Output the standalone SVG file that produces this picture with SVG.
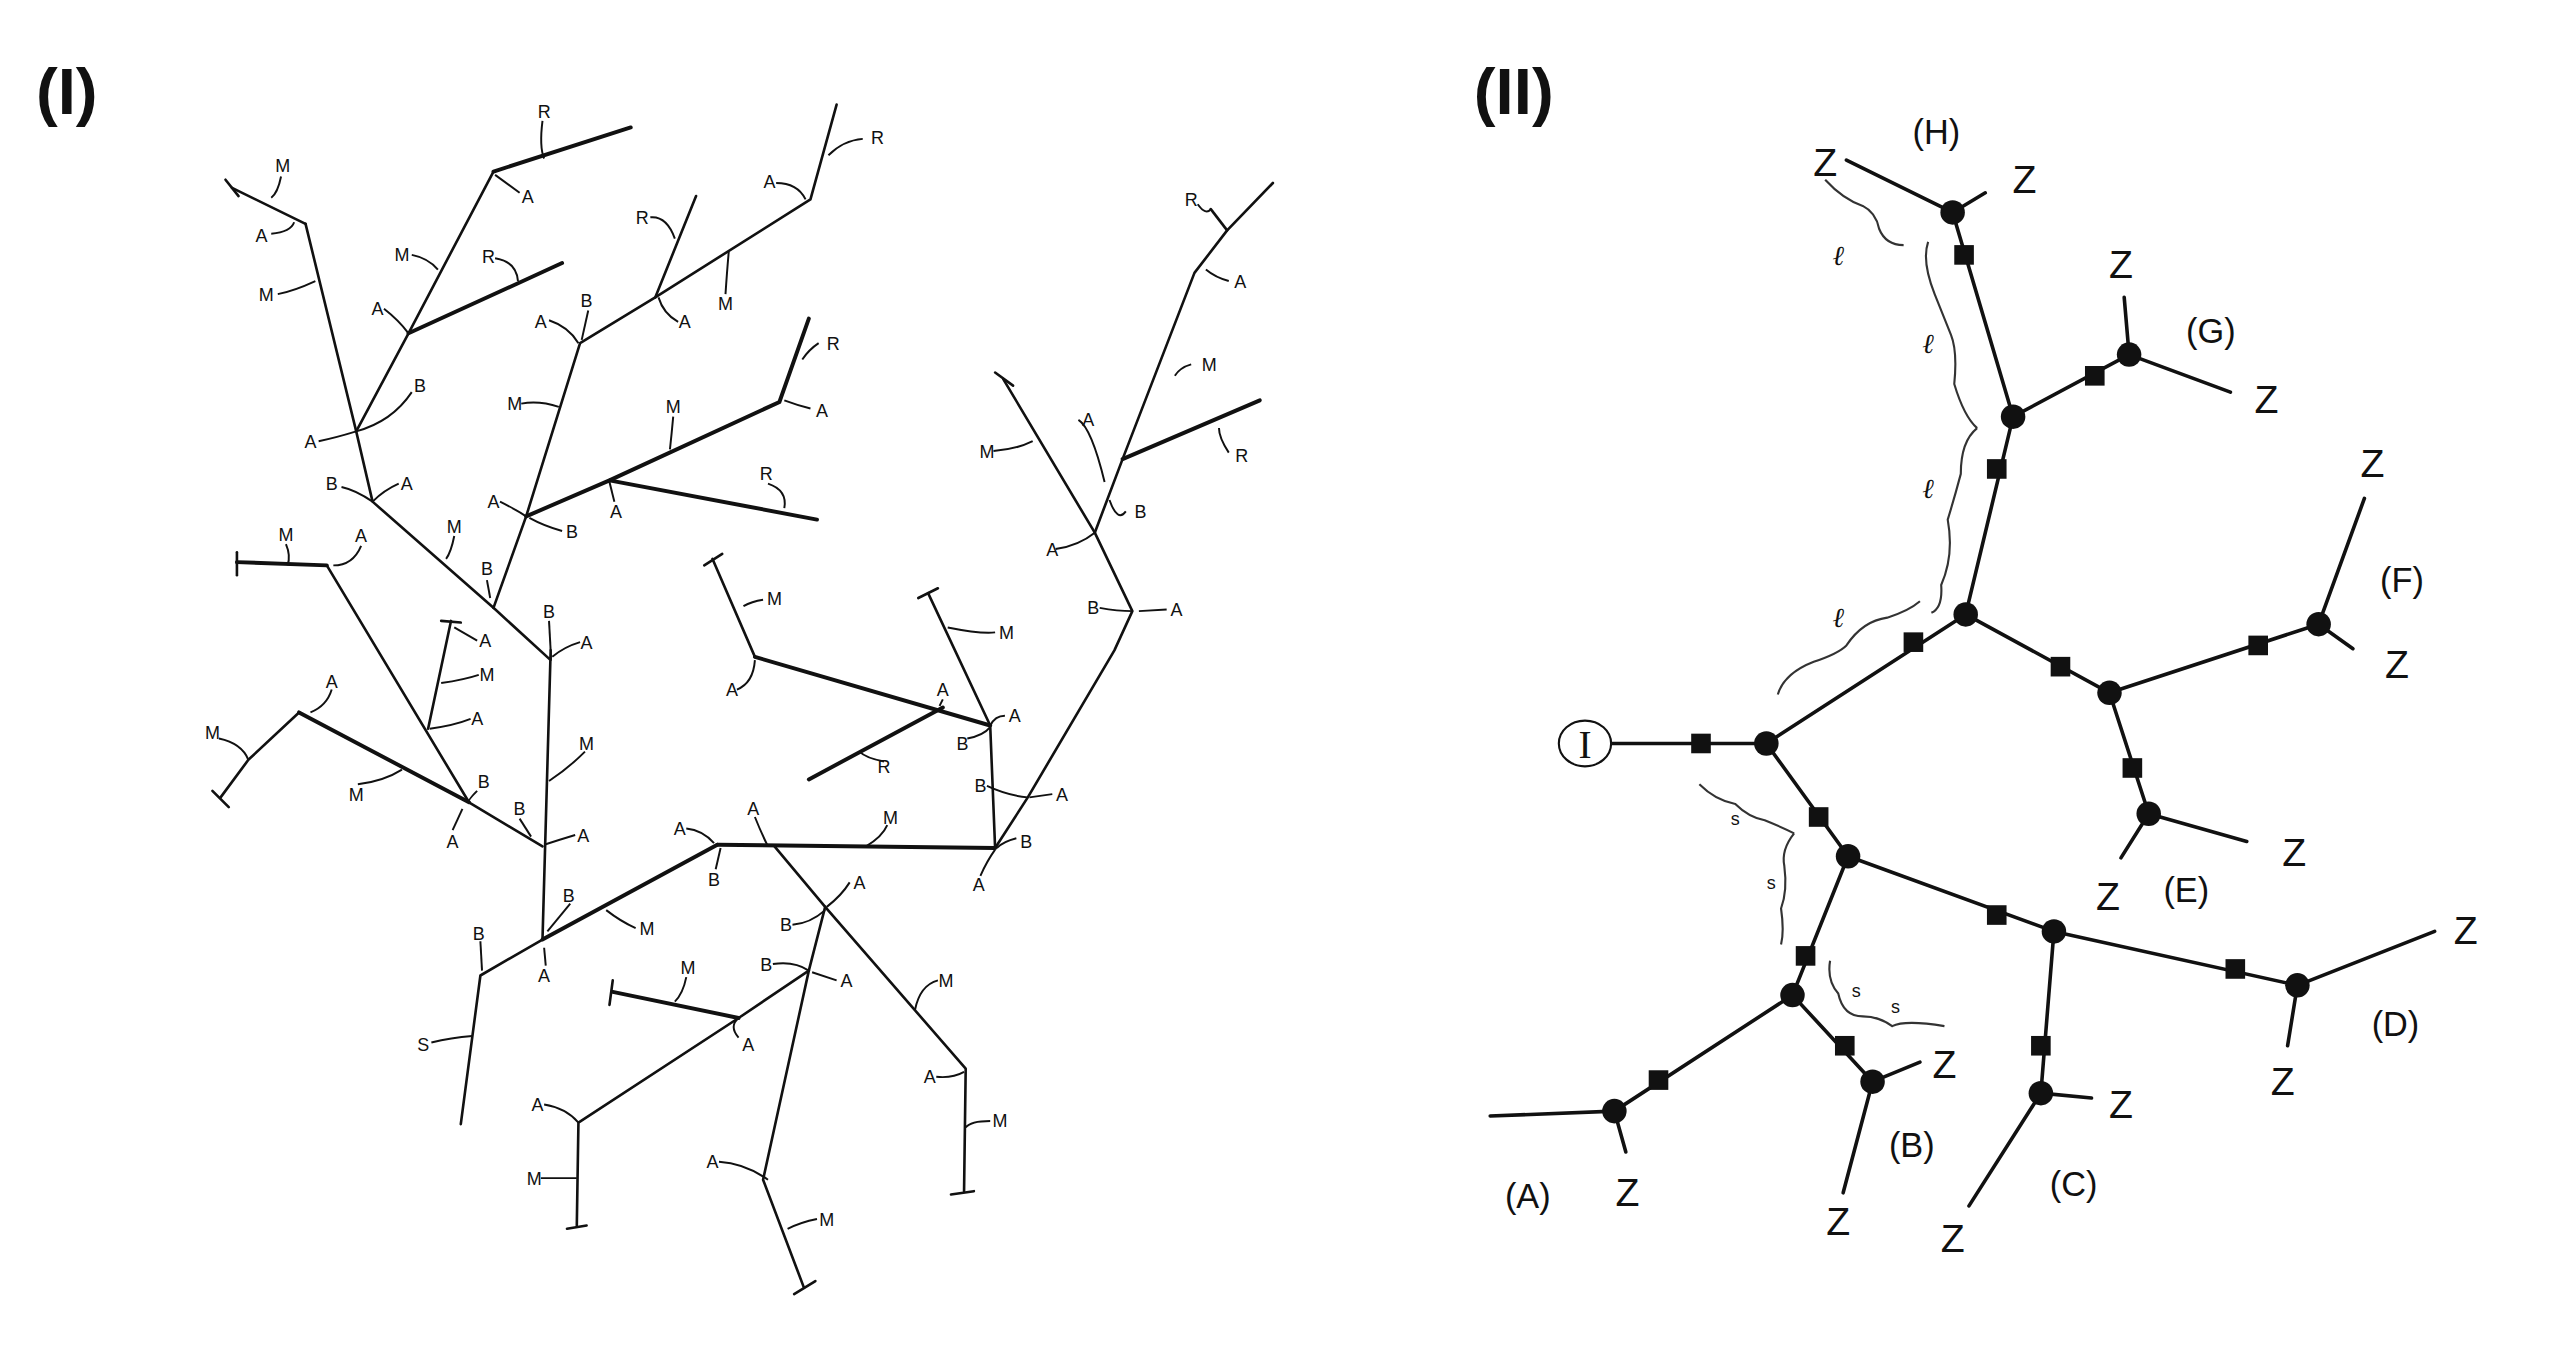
<svg xmlns="http://www.w3.org/2000/svg" width="2549" height="1349" viewBox="0 0 2549 1349">
<style>
.ln{fill:none;stroke:#111;stroke-width:1.6;stroke-linecap:round;stroke-linejoin:round}
.th{fill:none;stroke:#111;stroke-width:2.4;stroke-linecap:round}
.tk{fill:none;stroke:#111;stroke-width:1.2}
.l{font-family:"Liberation Sans",Arial,sans-serif;font-size:11px;fill:#111;text-anchor:middle}
.t{font-family:"Liberation Sans",Arial,sans-serif;font-size:40px;font-weight:bold;fill:#111}
.e{fill:none;stroke:#111;stroke-width:2.2;stroke-linecap:round;stroke-linejoin:round}
.z{font-family:"Liberation Sans",Arial,sans-serif;font-size:24px;fill:#111;text-anchor:middle}
.p{font-family:"Liberation Sans",Arial,sans-serif;font-size:21px;fill:#111;text-anchor:middle}
.br{fill:none;stroke:#333;stroke-width:1.3}
.s{font-family:"Liberation Serif",serif;font-size:17px;fill:#111;font-style:italic;text-anchor:middle}
</style>
<rect width="2549" height="1349" fill="#fff"/>
<g transform="scale(1.634)">
<text class="t" x="22" y="70">(I)</text>
<text class="t" x="902" y="70">(II)</text>
<g id="tree1">
<g id="connectors1">
<path class="ln" d="M187,137 L218,264 L228,307 L302,372 L337,404 L337,398 L332,575 L294,597 L282,688"/>
<path class="ln" d="M142,115 L187,137"/><path class="ln" d="M138,110 L146,120"/>
<path class="ln" d="M218,264 L250,204 L302,105"/><path class="th" d="M302,105 L386,78"/>
<path class="th" d="M250,204 L344,161"/>
<path class="ln" d="M302,372 L322,316 L355,210 L401,182 L496,122 L512,64"/>
<path class="ln" d="M401,182 L426,120"/>
<path class="th" d="M322,316 L373,294 L477,246 L495,195"/>
<path class="th" d="M373,294 L500,318"/>
<path class="th" d="M145,344 L200,346"/><path class="ln" d="M145,338 L145,352"/>
<path class="ln" d="M200,346 L287,491 L332,518"/>
<path class="ln" d="M276,380 L262,446"/><path class="ln" d="M270,380 L282,381"/>
<path class="th" d="M183,436 L287,491"/>
<path class="ln" d="M183,436 L152,465 L135,488"/><path class="ln" d="M130,484 L140,494"/>
<path class="ln" d="M614,232 L670,326 L693,374 L682,398 L629,488 L609,519"/><path class="ln" d="M609,228 L620,236"/>
<path class="ln" d="M670,326 L687,281 L731,167 L751,141 L779,112"/><path class="ln" d="M751,141 L741,128"/>
<path class="th" d="M687,281 L771,245"/>
<path class="ln" d="M436,342 L462,402"/><path class="ln" d="M431,346 L442,339"/>
<path class="th" d="M462,402 L606,444"/>
<path class="ln" d="M568,363 L606,444 L609,519"/><path class="ln" d="M562,366 L574,360"/>
<path class="th" d="M495,477 L577,433"/>
<path class="th" d="M332,575 L439,517"/><path class="th" d="M439,517 L609,519"/>
<path class="ln" d="M474,518 L505,555 L591,654 L590,729"/><path class="ln" d="M582,731 L596,729"/>
<path class="ln" d="M505,555 L495,594 L467,722 L492,788"/><path class="ln" d="M486,792 L499,784"/>
<path class="ln" d="M495,594 L452,623 L354,687 L353,750"/><path class="ln" d="M347,752 L359,750"/>
<path class="th" d="M375,607 L452,623"/><path class="ln" d="M375,600 L373,615"/>
</g>
<g id="ticks1" class="tk">
<path d="M172,108 Q170,118 166,121"/><path d="M166,143 Q178,142 180,136"/><path d="M170,180 Q180,178 193,172"/>
<path d="M195,270 Q205,268 218,264"/><path d="M252,240 Q240,258 218,264"/><path d="M332,74 Q330,90 333,97"/>
<path d="M318,118 L303,107"/><path d="M252,156 Q262,158 268,165"/><path d="M303,158 Q316,160 317,172"/>
<path d="M235,189 Q244,196 250,204"/><path d="M209,298 Q218,300 228,307"/><path d="M244,296 Q235,300 228,307"/>
<path d="M278,328 Q276,338 273,342"/><path d="M298,355 L300,366"/><path d="M528,85 Q516,86 507,95"/>
<path d="M475,112 Q488,112 493,122"/><path d="M398,133 Q408,132 413,146"/><path d="M415,197 Q406,192 403,182"/>
<path d="M444,180 Q445,165 446,154"/><path d="M360,190 L356,208"/><path d="M336,196 Q348,200 354,210"/>
<path d="M319,247 Q330,245 342,249"/><path d="M501,210 Q495,214 491,220"/><path d="M496,250 Q488,248 480,245"/>
<path d="M412,255 Q411,266 410,275"/><path d="M470,296 Q482,300 480,311"/><path d="M376,307 L373,295"/>
<path d="M306,307 Q316,312 322,316"/><path d="M344,325 Q333,322 324,317"/><path d="M336,380 L337,398"/>
<path d="M355,393 Q345,396 338,402"/><path d="M175,333 Q178,340 176,346"/><path d="M221,334 Q216,346 204,346"/>
<path d="M292,392 Q285,388 278,384"/><path d="M293,413 Q284,416 270,418"/><path d="M288,440 Q278,444 263,446"/>
<path d="M292,484 Q286,490 287,491"/><path d="M277,508 L283,495"/><path d="M318,501 L325,512"/>
<path d="M352,511 Q342,514 333,517"/><path d="M358,460 Q348,470 336,478"/><path d="M203,422 Q200,432 190,436"/>
<path d="M134,452 Q148,455 152,465"/><path d="M219,480 Q235,478 246,471"/><path d="M349,553 L335,570"/>
<path d="M294,576 L295,594"/><path d="M264,638 Q276,635 289,634"/><path d="M334,591 L333,580"/>
<path d="M389,568 Q380,564 371,557"/><path d="M420,507 Q430,508 437,516"/><path d="M438,532 L441,519"/>
<path d="M462,500 Q466,510 470,518"/><path d="M543,505 Q540,512 530,518"/><path d="M622,513 Q614,515 610,519"/>
<path d="M600,536 Q604,527 609,520"/><path d="M604,481 Q617,487 629,488"/><path d="M644,486 L630,488"/>
<path d="M451,422 Q461,418 462,404"/><path d="M577,428 L575,432"/><path d="M615,438 Q609,438 606,444"/>
<path d="M592,452 Q602,450 606,445"/><path d="M541,466 Q530,464 526,460"/><path d="M520,540 Q515,548 506,555"/>
<path d="M485,566 Q496,565 505,557"/><path d="M574,600 Q563,603 560,618"/><path d="M573,659 Q583,660 590,656"/>
<path d="M606,686 Q594,686 591,690"/><path d="M473,590 Q486,588 495,594"/><path d="M512,600 L497,595"/>
<path d="M440,711 Q456,712 470,722"/><path d="M500,746 Q490,748 482,752"/><path d="M333,676 Q346,678 354,687"/>
<path d="M331,721 L353,721"/><path d="M452,635 Q446,628 452,623"/><path d="M420,598 Q418,608 413,613"/>
<path d="M608,276 Q622,275 632,270"/><path d="M660,257 Q668,262 676,295"/><path d="M729,223 Q722,225 719,230"/>
<path d="M752,172 Q744,170 738,165"/><path d="M733,125 Q738,132 741,128"/><path d="M752,277 Q746,268 746,262"/>
<path d="M689,313 Q684,320 679,306"/><path d="M646,336 Q660,334 670,326"/><path d="M673,372 Q684,374 693,374"/>
<path d="M714,373 L697,374"/><path d="M467,367 Q460,368 455,371"/><path d="M609,387 Q600,388 580,384"/>
</g>
<g id="labels1">
<text class="l" x="173" y="105">M</text><text class="l" x="160" y="148">A</text><text class="l" x="163" y="184">M</text>
<text class="l" x="190" y="274">A</text><text class="l" x="257" y="240">B</text><text class="l" x="333" y="72">R</text>
<text class="l" x="323" y="124">A</text><text class="l" x="246" y="160">M</text><text class="l" x="299" y="161">R</text>
<text class="l" x="231" y="193">A</text><text class="l" x="203" y="300">B</text><text class="l" x="249" y="300">A</text>
<text class="l" x="278" y="326">M</text><text class="l" x="298" y="352">B</text><text class="l" x="537" y="88">R</text>
<text class="l" x="471" y="115">A</text><text class="l" x="393" y="137">R</text><text class="l" x="419" y="201">A</text>
<text class="l" x="444" y="190">M</text><text class="l" x="359" y="188">B</text><text class="l" x="331" y="201">A</text>
<text class="l" x="315" y="251">M</text><text class="l" x="510" y="214">R</text><text class="l" x="503" y="255">A</text>
<text class="l" x="412" y="253">M</text><text class="l" x="469" y="294">R</text><text class="l" x="377" y="317">A</text>
<text class="l" x="302" y="311">A</text><text class="l" x="350" y="329">B</text><text class="l" x="336" y="378">B</text>
<text class="l" x="359" y="397">A</text><text class="l" x="175" y="331">M</text><text class="l" x="221" y="332">A</text>
<text class="l" x="297" y="396">A</text><text class="l" x="298" y="417">M</text><text class="l" x="292" y="444">A</text>
<text class="l" x="296" y="482">B</text><text class="l" x="277" y="519">A</text><text class="l" x="318" y="499">B</text>
<text class="l" x="357" y="515">A</text><text class="l" x="359" y="459">M</text><text class="l" x="203" y="421">A</text>
<text class="l" x="130" y="452">M</text><text class="l" x="218" y="490">M</text><text class="l" x="348" y="552">B</text>
<text class="l" x="293" y="575">B</text><text class="l" x="259" y="643">S</text><text class="l" x="333" y="601">A</text>
<text class="l" x="396" y="572">M</text><text class="l" x="416" y="511">A</text><text class="l" x="437" y="542">B</text>
<text class="l" x="461" y="499">A</text><text class="l" x="545" y="504">M</text><text class="l" x="628" y="519">B</text>
<text class="l" x="599" y="545">A</text><text class="l" x="600" y="485">B</text><text class="l" x="650" y="490">A</text>
<text class="l" x="448" y="426">A</text><text class="l" x="577" y="426">A</text><text class="l" x="621" y="442">A</text>
<text class="l" x="589" y="459">B</text><text class="l" x="541" y="473">R</text><text class="l" x="526" y="544">A</text>
<text class="l" x="481" y="570">B</text><text class="l" x="579" y="604">M</text><text class="l" x="569" y="663">A</text>
<text class="l" x="612" y="690">M</text><text class="l" x="469" y="594">B</text><text class="l" x="518" y="604">A</text>
<text class="l" x="436" y="715">A</text><text class="l" x="506" y="750">M</text><text class="l" x="329" y="680">A</text>
<text class="l" x="327" y="725">M</text><text class="l" x="458" y="643">A</text><text class="l" x="421" y="596">M</text>
<text class="l" x="604" y="280">M</text><text class="l" x="666" y="261">A</text><text class="l" x="740" y="227">M</text>
<text class="l" x="759" y="176">A</text><text class="l" x="729" y="126">R</text><text class="l" x="760" y="283">R</text>
<text class="l" x="698" y="317">B</text><text class="l" x="644" y="340">A</text><text class="l" x="669" y="376">B</text>
<text class="l" x="720" y="377">A</text><text class="l" x="474" y="370">M</text><text class="l" x="616" y="391">M</text>
</g>
</g>
<g id="tree2">
<g id="connectors2">
<path class="e" d="M985,455 L1081,455 L1203,376 L1232,255 L1195,130 L1130,98"/>
<path class="e" d="M1195,130 L1215,118"/>
<path class="e" d="M1232,255 L1303,217 L1365,240"/><path class="e" d="M1303,217 L1300,182"/>
<path class="e" d="M1203,376 L1291,424 L1419,382 L1447,305"/><path class="e" d="M1419,382 L1440,397"/>
<path class="e" d="M1291,424 L1315,498 L1375,515"/><path class="e" d="M1315,498 L1298,525"/>
<path class="e" d="M1081,455 L1131,524 L1097,609 L988,680 L912,683"/><path class="e" d="M988,680 L995,705"/>
<path class="e" d="M1097,609 L1146,662 L1175,650"/><path class="e" d="M1146,662 L1128,730"/>
<path class="e" d="M1131,524 L1257,570 L1406,603 L1490,570"/><path class="e" d="M1406,603 L1400,640"/>
<path class="e" d="M1257,570 L1249,669 L1280,672"/><path class="e" d="M1249,669 L1205,738"/>
<path class="br" d="M1117,110 Q1128,122 1140,126 Q1148,130 1150,140 Q1154,150 1165,150"/>
<path class="br" d="M1180,148 Q1176,160 1184,180 Q1192,200 1194,205 Q1198,215 1196,235 Q1202,255 1210,262"/>
<path class="br" d="M1210,262 Q1200,270 1200,290 Q1196,305 1192,318 Q1196,340 1188,358 Q1189,372 1182,375"/>
<path class="br" d="M1088,425 Q1092,412 1110,405 Q1125,400 1130,395 Q1140,380 1155,378 Q1168,374 1175,368"/>
<path class="br" d="M1040,480 Q1050,490 1062,492 Q1070,500 1080,502 Q1090,506 1098,510"/>
<path class="br" d="M1098,510 Q1090,520 1092,530 Q1094,545 1090,556 Q1092,570 1090,578"/>
<path class="br" d="M1120,588 Q1118,600 1125,608 Q1128,622 1140,622 Q1150,622 1158,628 Q1166,624 1190,628"/>
</g>
<g id="nodes2" fill="#111">
<circle cx="1195" cy="130" r="7.5"/><circle cx="1303" cy="217" r="7.5"/><circle cx="1232" cy="255" r="7.5"/>
<circle cx="1203" cy="376" r="7.5"/><circle cx="1081" cy="455" r="7.5"/><circle cx="1131" cy="524" r="7.5"/>
<circle cx="1097" cy="609" r="7.5"/><circle cx="988" cy="680" r="7.5"/><circle cx="1146" cy="662" r="7.5"/>
<circle cx="1291" cy="424" r="7.5"/><circle cx="1419" cy="382" r="7.5"/><circle cx="1315" cy="498" r="7.5"/>
<circle cx="1257" cy="570" r="7.5"/><circle cx="1249" cy="669" r="7.5"/><circle cx="1406" cy="603" r="7.5"/>
<rect x="1196" y="150" width="12" height="12"/><rect x="1276" y="224" width="12" height="12"/>
<rect x="1216" y="281" width="12" height="12"/><rect x="1165" y="387" width="12" height="12"/>
<rect x="1035" y="449" width="12" height="12"/><rect x="1107" y="494" width="12" height="12"/>
<rect x="1099" y="579" width="12" height="12"/><rect x="1009" y="655" width="12" height="12"/>
<rect x="1123" y="634" width="12" height="12"/><rect x="1255" y="402" width="12" height="12"/>
<rect x="1376" y="389" width="12" height="12"/><rect x="1299" y="464" width="12" height="12"/>
<rect x="1216" y="554" width="12" height="12"/><rect x="1243" y="634" width="12" height="12"/>
<rect x="1362" y="587" width="12" height="12"/>
</g>
<g id="I-node"><ellipse cx="970" cy="455" rx="16" ry="14" fill="#fff" stroke="#111" stroke-width="1.3"/>
<text x="970" y="464" font-family="Liberation Serif,serif" font-size="24" text-anchor="middle" fill="#111">I</text></g>
<g id="labels2">
<text class="z" x="1117" y="108">Z</text><text class="z" x="1239" y="118">Z</text><text class="p" x="1185" y="88">(H)</text>
<text class="z" x="1298" y="170">Z</text><text class="p" x="1353" y="210">(G)</text><text class="z" x="1387" y="253">Z</text>
<text class="z" x="1452" y="292">Z</text><text class="p" x="1470" y="362">(F)</text><text class="z" x="1467" y="415">Z</text>
<text class="z" x="1404" y="530">Z</text><text class="z" x="1290" y="557">Z</text><text class="p" x="1338" y="552">(E)</text>
<text class="z" x="1509" y="578">Z</text><text class="z" x="1397" y="670">Z</text><text class="p" x="1466" y="634">(D)</text>
<text class="z" x="1298" y="684">Z</text><text class="z" x="1195" y="766">Z</text><text class="p" x="1269" y="732">(C)</text>
<text class="z" x="1190" y="660">Z</text><text class="z" x="1125" y="756">Z</text><text class="p" x="1170" y="708">(B)</text>
<text class="z" x="996" y="738">Z</text><text class="p" x="935" y="739">(A)</text>
<text class="s" x="1125" y="162">ℓ</text><text class="s" x="1180" y="216">ℓ</text><text class="s" x="1180" y="305">ℓ</text>
<text class="s" x="1125" y="384">ℓ</text>
<text class="l" x="1062" y="505">s</text><text class="l" x="1084" y="544">s</text><text class="l" x="1136" y="610">s</text><text class="l" x="1160" y="620">s</text>
</g>
</g>
</g>
</svg>
